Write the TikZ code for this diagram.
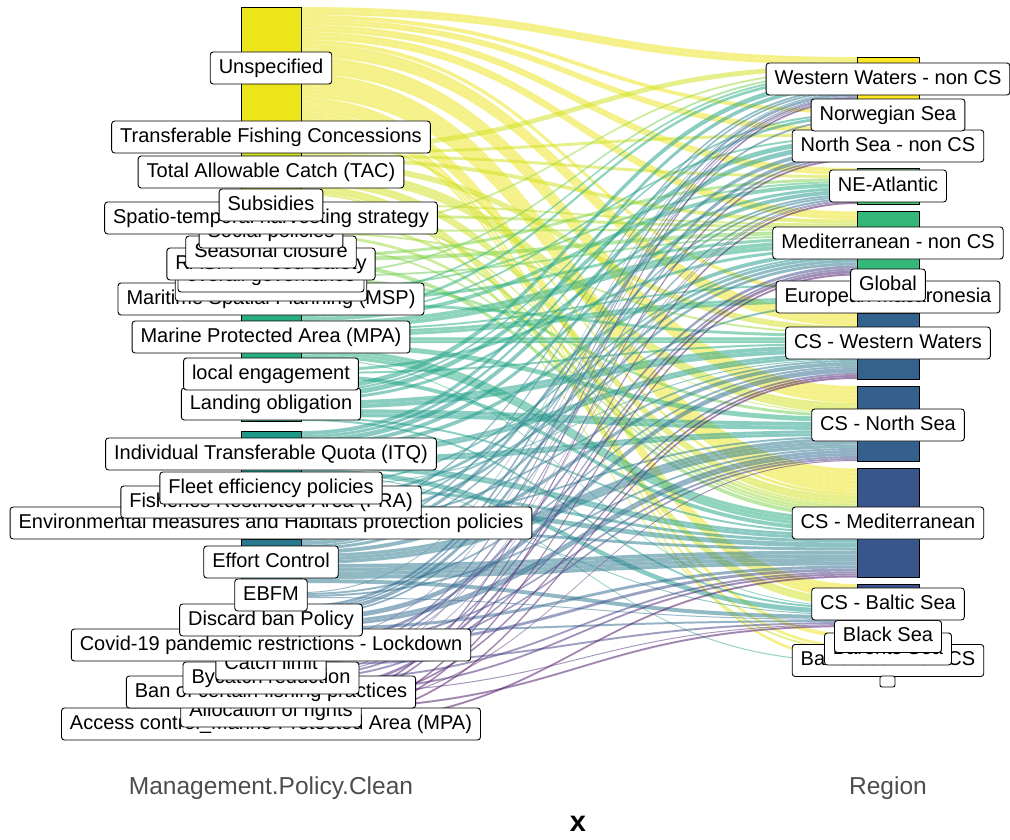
\documentclass[tikz,border=0pt]{standalone}
\usepackage{fontspec}
\setmainfont{Liberation Sans}
% policy colours (viridis positions)
\definecolor{cL1}{HTML}{EBE51A}\definecolor{cL2}{HTML}{DFE318}\definecolor{cL3}{HTML}{CFE11C}
\definecolor{cL4}{HTML}{BFDF25}\definecolor{cL5}{HTML}{AFDD2F}\definecolor{cL6}{HTML}{9FDA3A}
\definecolor{cL7}{HTML}{8FD744}\definecolor{cL8}{HTML}{7FD34E}\definecolor{cL9}{HTML}{70CF57}
\definecolor{cL10}{HTML}{40BD72}\definecolor{cL11}{HTML}{2EB37C}\definecolor{cL12}{HTML}{27AD81}
\definecolor{cL13}{HTML}{22A785}\definecolor{cL14}{HTML}{1FA088}\definecolor{cL15}{HTML}{1F9A8A}
\definecolor{cL16}{HTML}{21908D}\definecolor{cL17}{HTML}{238A8D}\definecolor{cL18}{HTML}{287D8E}
\definecolor{cL19}{HTML}{2A788E}\definecolor{cL20}{HTML}{2D708E}\definecolor{cL21}{HTML}{306A8E}
\definecolor{cL22}{HTML}{3F4A8A}\definecolor{cL23}{HTML}{414487}\definecolor{cL24}{HTML}{443A83}
\definecolor{cL25}{HTML}{482475}\definecolor{cL26}{HTML}{471365}\definecolor{cL27}{HTML}{460A5D}
% region colours
\definecolor{cR1}{HTML}{FDE725}\definecolor{cR2}{HTML}{62CB5F}\definecolor{cR3}{HTML}{56C667}
\definecolor{cR4}{HTML}{4AC16D}\definecolor{cR5}{HTML}{35B779}\definecolor{cR6}{HTML}{20938C}
\definecolor{cR7}{HTML}{26828E}\definecolor{cR8}{HTML}{33638D}\definecolor{cR9}{HTML}{355F8D}
\definecolor{cR10}{HTML}{39568C}\definecolor{cR11}{HTML}{3B528B}\definecolor{cR12}{HTML}{463480}
\definecolor{cR13}{HTML}{472D7B}\definecolor{cR14}{HTML}{481C6E}
\definecolor{axgrey}{HTML}{4D4D4D}
\newcommand\setrc[2]{\expandafter\xdef\csname rc#1\endcsname{#2}}
\newcommand\pol[2]{\xdef\lcur{#1}\xdef\pcol{#2}}
\newcommand\fl[2]{%
  \pgfmathsetmacro\fa{\lcur}%
  \pgfmathsetmacro\ga{\csname rc#1\endcsname}%
  \pgfmathtruncatemacro\nn{max(1,round(#2/4))}%
  \pgfmathsetmacro\dw{#2/\nn}%
  \foreach \k in {1,...,\nn}{%
    \pgfmathsetmacro\pa{\fa+(\k-1)*\dw}\pgfmathsetmacro\pb{\pa+\dw}%
    \pgfmathsetmacro\qa{\ga+(\k-1)*\dw}\pgfmathsetmacro\qb{\qa+\dw}%
    \path[flow, fill=\pcol] (301,\pa) .. controls (579,\pa) and (579,\qa) .. (857,\qa)
      -- (857,\qb) .. controls (579,\qb) and (579,\pb) .. (301,\pb) -- cycle;}%
  \pgfmathsetmacro\fb{\fa+#2}\pgfmathsetmacro\gb{\ga+#2}%
  \xdef\lcur{\fb}%
  \expandafter\xdef\csname rc#1\endcsname{\gb}%
}
\begin{document}
\begin{tikzpicture}[x=1pt,y=-1pt,
  flow/.style={fill opacity=0.52, draw=white, draw opacity=0.3, line width=0.15pt},
  strat/.style={draw=black, line width=0.9pt},
  lab/.style={draw=black, line width=0.9pt, fill=white, rounded corners=3pt,
    inner xsep=8.5pt, inner ysep=0pt, text height=15pt, text depth=4.5pt,
    minimum height=32pt, font=\fontsize{20}{20}\selectfont, text=black},
  axl/.style={font=\fontsize{24.5}{24.5}\selectfont, text=axgrey}]
\useasboundingbox (0,0) rectangle (1010,840);
% right stratum starts
\setrc{1}{57}\setrc{2}{109.5}\setrc{3}{127.5}\setrc{4}{168}\setrc{5}{211.5}
\setrc{6}{283}\setrc{7}{293}\setrc{8}{313}\setrc{9}{386}\setrc{10}{468.5}
\setrc{11}{584}\setrc{12}{634}\setrc{13}{645.5}\setrc{14}{658}
% flows
\pol{7}{cL1}\fl{1}{8}\fl{2}{4}\fl{3}{6}\fl{4}{7}\fl{5}{8}\fl{7}{4}\fl{8}{13}\fl{9}{17}\fl{10}{24}\fl{11}{14}\fl{12}{4}\fl{13}{3}\fl{14}{3}
\pol{135.5}{cL2}\fl{10}{3}
\pol{146}{cL3}\fl{1}{5}\fl{3}{3}\fl{4}{3}\fl{5}{4}\fl{8}{6}\fl{9}{10}\fl{10}{8}\fl{11}{8}\fl{13}{2}
\pol{203}{cL4}\fl{5}{2}\fl{10}{2}
\pol{214}{cL5}\fl{5}{3}\fl{9}{1}\fl{10}{3}
\pol{228}{cL6}\fl{1}{2}\fl{5}{2}\fl{8}{2}\fl{10}{3}
\pol{245}{cL7}\fl{10}{2}
\pol{254}{cL8}\fl{4}{3}\fl{5}{4}\fl{10}{4}
\pol{273}{cL9}\fl{1}{2}\fl{5}{2}\fl{9}{3}
\pol{288}{cL10}\fl{4}{2}
\pol{297}{cL11}\fl{1}{2}\fl{5}{3}\fl{8}{3}
\pol{312}{cL12}\fl{1}{3}\fl{3}{2}\fl{4}{4}\fl{5}{8}\fl{6}{2}\fl{7}{6}\fl{8}{6}\fl{9}{5}\fl{10}{10}\fl{11}{1}
\pol{369}{cL13}\fl{5}{3}\fl{8}{2}\fl{10}{4}
\pol{386}{cL14}\fl{1}{5}\fl{2}{2}\fl{3}{5}\fl{4}{3}\fl{8}{8}\fl{9}{8}\fl{10}{2}\fl{11}{2}
\pol{431}{cL15}\fl{1}{4}\fl{2}{3}\fl{3}{5}\fl{4}{4}\fl{5}{4}\fl{8}{6}\fl{9}{6}\fl{10}{6}\fl{11}{5}\fl{14}{1}
\pol{484}{cL16}\fl{5}{2}\fl{8}{1}\fl{10}{3}
\pol{497}{cL17}\fl{5}{3}\fl{7}{2}\fl{10}{5}\fl{11}{1}
\pol{516}{cL18}\fl{1}{2}\fl{4}{2}\fl{5}{3}\fl{8}{2}\fl{9}{2}\fl{10}{3}
\pol{539}{cL19}\fl{1}{2}\fl{3}{4}\fl{4}{2}\fl{5}{3}\fl{8}{4}\fl{9}{10}\fl{10}{15}\fl{11}{4}
\pol{592}{cL20}\fl{1}{1}\fl{8}{2}\fl{9}{2}\fl{11}{1}
\pol{605}{cL21}\fl{1}{3}\fl{2}{2}\fl{3}{4}\fl{4}{2}\fl{8}{5}\fl{9}{6}\fl{10}{3}\fl{11}{2}
\pol{640}{cL22}\fl{1}{1}\fl{5}{3}\fl{9}{2}\fl{10}{3}
\pol{656}{cL23}\fl{1}{2}\fl{3}{2}\fl{4}{1}\fl{9}{2}\fl{11}{2}
\pol{673}{cL24}\fl{1}{1}\fl{4}{1}\fl{5}{2}\fl{8}{2}\fl{10}{2}
\pol{688}{cL25}\fl{5}{3}\fl{10}{2}\fl{11}{1}
\pol{701}{cL26}\fl{1}{2}\fl{3}{2}\fl{8}{2}\fl{9}{1}\fl{11}{2}
\pol{718}{cL27}\fl{4}{2}\fl{5}{2}\fl{8}{2}\fl{10}{2}
% left strata
\foreach \a/\b/\c in {7/122/cL1,135.5/138.5/cL2,146/195/cL3,203/207/cL4,214/221/cL5,228/237/cL6,
  245/247/cL7,254/265/cL8,273/280/cL9,288/290/cL10,297/305/cL11,312/359/cL12,369/378/cL13,
  386/421/cL14,431/475/cL15,484/490/cL16,497/508/cL17,516/530/cL18,539/583/cL19,592/598/cL20,
  605/632/cL21,640/649/cL22,656/665/cL23,673/681/cL24,688/694/cL25,701/710/cL26,718/726/cL27}
  {\path[strat, fill=\c] (241,\a) rectangle (301,\b);}
% right strata
\foreach \a/\b/\c in {57/102/cR1,109.5/120.5/cR2,127.5/160.5/cR3,168/204/cR4,211.5/275.5/cR5,
  283/285/cR6,293/305/cR7,313/379/cR8,386/461/cR9,468.5/577.5/cR10,584/627/cR11,
  634/638/cR12,645.5/650.5/cR13,658/662/cR14}
  {\path[strat, fill=\c] (857,\a) rectangle (919,\b);}
% left labels (drawn bottom to top)
\node[lab] (pAccess) at (271,724) {Access control\_Marine Protected Area (MPA)};
\node[lab] (pAlloc) at (271,711) {Allocation of rights};
\node[lab] (pBan) at (271,692) {Ban of certain fishing practices};
\node[lab] (pBycatch) at (271,678) {Bycatch reduction};
\node[lab] (pCatch) at (271,664) {Catch limit};
\node[lab] (pCovid) at (271,645) {Covid-19 pandemic restrictions - Lockdown};
\node[lab] (pDiscard) at (271,620) {Discard ban Policy};
\node[lab] (pEBFM) at (271,595) {EBFM};
\node[lab] (pEffort) at (271,562) {Effort Control};
\node[lab] (pEnv) at (271,523) {Environmental measures and Habitats protection policies};
\node[lab] (pFRA) at (271,502) {Fisheries Restricted Area (FRA)};
\node[lab] (pFleet) at (271,488) {Fleet efficiency policies};
\node[lab] (pITQ) at (271,454) {Individual Transferable Quota (ITQ)};
\node[lab] (pLanding) at (271,404) {Landing obligation};
\node[lab] (pLocal) at (271,374) {local engagement};
\node[lab] (pMPA) at (271,337) {Marine Protected Area (MPA)};
\node[lab] (pMSP) at (271,299) {Maritime Spatial Planning (MSP)};
\node[lab] (pMin) at (271,285) {minimum risk levels};
\node[lab] (pOverall) at (271,276) {overall governance};
\node[lab] (pRASFF) at (271,264) {RASFF - Food Safety};
\node[lab] (pSeasonal) at (271,252) {Seasonal closure};
\node[lab] (pSocial) at (271,232) {Social policies};
\node[lab] (pSpatio) at (271,218) {Spatio-temporal harvesting strategy};
\node[lab] (pSubs) at (271,205) {Subsidies};
\node[lab] (pTAC) at (271,172) {Total Allowable Catch (TAC)};
\node[lab] (pTFC) at (271,137) {Transferable Fishing Concessions};
\node[lab] (pUnspec) at (271,68) {Unspecified};
% right labels
\node[lab] (rBaltn) at (888,660.5) {Baltic Sea - non CS};
\node[lab] (rBarents) at (888,649) {Barents Sea};
\node[lab] (rBlack) at (888,636.5) {Black Sea};
\node[lab] (rCSBal) at (888,604) {CS - Baltic Sea};
\node[lab] (rCSMed) at (888,523) {CS - Mediterranean};
\node[lab] (rCSNS) at (888,425) {CS - North Sea};
\node[lab] (rCSWW) at (888,343) {CS - Western Waters};
\node[lab] (rEuro) at (888,297) {European Macaronesia};
\node[lab] (rGlobal) at (888,285) {Global};
\node[lab] (rMedn) at (888,243) {Mediterranean - non CS};
\node[lab] (rNEA) at (888,186) {NE-Atlantic};
\node[lab] (rNSn) at (888,146) {North Sea - non CS};
\node[lab] (rNorw) at (888,115) {Norwegian Sea};
\node[lab] (rWW) at (888,79) {Western Waters - non CS};
\node[draw=black, line width=0.9pt, fill=white, rounded corners=2pt, inner sep=0pt,
  minimum width=15pt, minimum height=11pt] (rEmpty) at (887.5,681.5) {};
% axis texts
\node[axl] (axL) at (271,788) {Management.Policy.Clean};
\node[axl] (axR) at (888,788) {Region};
\node[font=\bfseries\fontsize{29}{29}\selectfont, text=black] (xt) at (578,824) {x};
\end{tikzpicture}
\end{document}
